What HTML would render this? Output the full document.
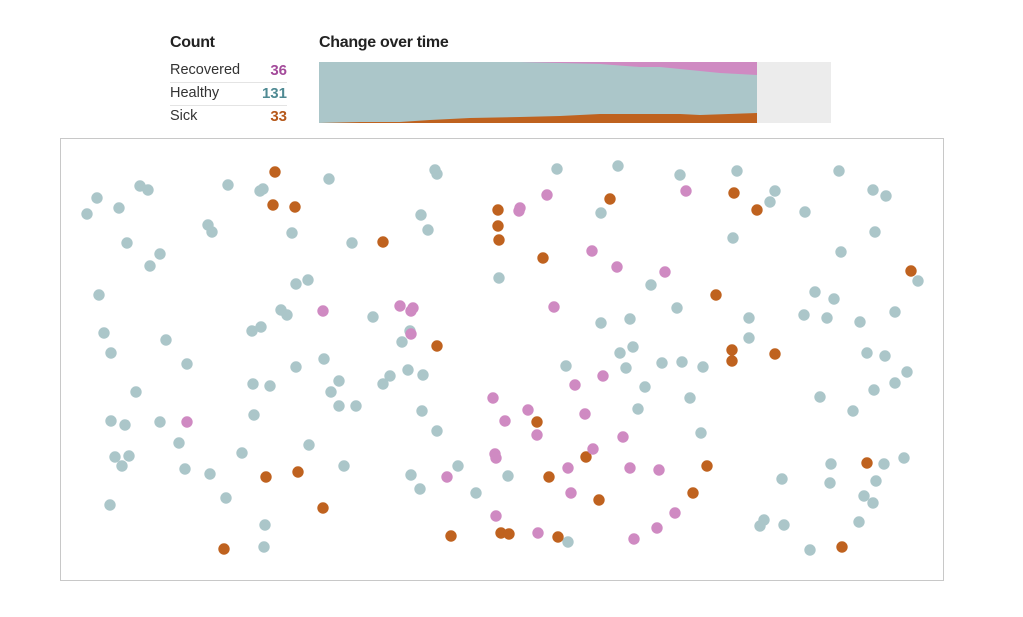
<!DOCTYPE html>
<html><head><meta charset="utf-8"><style>
body{margin:0;background:#fff;font-family:"Liberation Sans",sans-serif;}
.wrap{position:relative;width:1023px;height:617px;overflow:hidden;}
.h{position:absolute;font-weight:bold;font-size:16px;color:#222;top:34px;letter-spacing:-0.3px;}
.row{position:absolute;left:170px;width:117px;height:22px;font-size:14.5px;color:#333;}
.row span{position:absolute;right:0;font-weight:bold;font-size:15px;}
.sep{position:absolute;left:170px;width:117px;height:1px;background:#e4e4e4;}
</style></head><body><div class="wrap">
<div class="h" style="left:170px">Count</div>
<div class="h" style="left:319px">Change over time</div>
<div class="row" style="top:62px">Recovered<span style="color:#a34a9a">36</span></div>
<div class="sep" style="top:82px"></div>
<div class="row" style="top:85px">Healthy<span style="color:#4f8a93">131</span></div>
<div class="sep" style="top:105px"></div>
<div class="row" style="top:108px">Sick<span style="color:#b5581a">33</span></div>
<svg style="position:absolute;left:0;top:0" width="1023" height="617">
<rect x="319" y="62" width="512" height="61" fill="#ececec"/>
<rect x="319" y="62" width="438" height="61" fill="#abc6c9"/>
<polygon points="520,62 757,62 757,75 720,73 700,71 660,67 640,67 600,64 560,63" fill="#cf8ac2"/>
<polygon points="319,123 360,122 400,122 430,120 470,118 520,117 560,116 600,114 680,114 700,115 757,113 757,123" fill="#bf621f"/>
<rect x="60.5" y="138.5" width="883" height="442" fill="none" stroke="#c8c8c8"/>
<g fill="#abc6c9" id="h"></g><g fill="#bf621f" id="s"></g><g fill="#cf8ac2" id="r"></g>
</svg>
<script>
var H=[[87,214],[97,198],[119,208],[140,186],[148,190],[127,243],[150,266],[160,254],[99,295],[104,333],[111,353],[166,340],[187,364],[136,392],[111,421],[125,425],[160,422],[179,443],[115,457],[129,456],[122,466],[185,469],[210,474],[110,505],[226,498],[242,453],[254,415],[253,384],[270,386],[265,525],[264,547],[228,185],[260,191],[263,189],[208,225],[212,232],[292,233],[329,179],[296,284],[308,280],[281,310],[287,315],[252,331],[261,327],[296,367],[324,359],[339,381],[331,392],[339,406],[356,406],[309,445],[344,466],[352,243],[373,317],[383,384],[390,376],[402,342],[408,370],[423,375],[410,331],[435,170],[437,174],[421,215],[428,230],[422,411],[437,431],[411,475],[420,489],[458,466],[476,493],[499,278],[508,476],[557,169],[618,166],[601,213],[680,175],[737,171],[775,191],[770,202],[733,238],[805,212],[839,171],[873,190],[886,196],[875,232],[841,252],[651,285],[677,308],[601,323],[630,319],[620,353],[633,347],[626,368],[566,366],[662,363],[682,362],[703,367],[645,387],[638,409],[690,398],[701,433],[749,318],[749,338],[815,292],[834,299],[804,315],[827,318],[860,322],[895,312],[867,353],[885,356],[907,372],[895,383],[874,390],[820,397],[853,411],[918,281],[831,464],[884,464],[904,458],[830,483],[876,481],[864,496],[873,503],[782,479],[764,520],[760,526],[784,525],[859,522],[810,550],[568,542]];
var S=[[275,172],[273,205],[295,207],[383,242],[498,210],[498,226],[499,240],[543,258],[610,199],[734,193],[757,210],[911,271],[716,295],[437,346],[732,350],[732,361],[775,354],[537,422],[586,457],[549,477],[599,500],[693,493],[707,466],[867,463],[266,477],[298,472],[323,508],[224,549],[451,536],[501,533],[509,534],[558,537],[842,547]];
var R=[[520,208],[519,211],[547,195],[686,191],[592,251],[617,267],[665,272],[554,307],[400,306],[413,308],[411,311],[323,311],[411,334],[575,385],[603,376],[585,414],[493,398],[505,421],[528,410],[537,435],[623,437],[593,449],[495,454],[496,458],[568,468],[630,468],[659,470],[571,493],[447,477],[496,516],[538,533],[675,513],[657,528],[634,539],[187,422]];
function put(id,a){var g=document.getElementById(id),s='';a.forEach(function(p){s+='<circle cx="'+p[0]+'" cy="'+p[1]+'" r="5.7"/>';});g.innerHTML=s;}
put('h',H);put('s',S);put('r',R);
</script>
</div></body></html>
